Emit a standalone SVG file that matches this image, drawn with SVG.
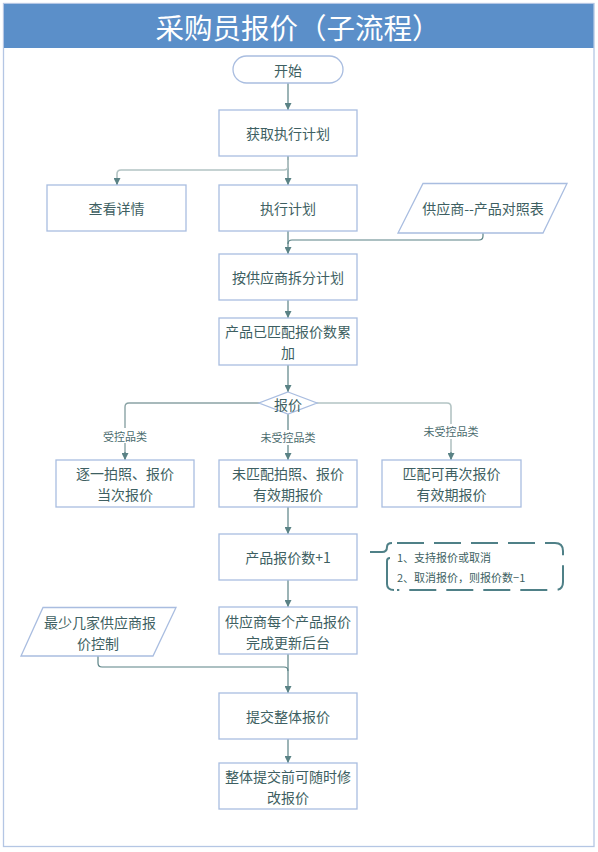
<svg xmlns="http://www.w3.org/2000/svg" width="598" height="852" viewBox="0 0 598 852">
<style>
.box{fill:#fff;stroke:#a9bde0;stroke-width:1.3}
.t{font-family:"Noto Sans CJK SC","Noto Sans",sans-serif;font-size:14px;fill:#3e5f62;text-anchor:middle;dominant-baseline:central}
.lbl{font-family:"Noto Sans CJK SC","Noto Sans",sans-serif;font-size:11px;fill:#4a6b6e;text-anchor:middle;dominant-baseline:central}
.ann{font-family:"Noto Sans CJK SC","Noto Sans",sans-serif;font-size:11px;fill:#3e5f62;dominant-baseline:central}
.c{fill:none;stroke:#5a8285;stroke-width:1.2}
.cl{fill:none;stroke:#b3c4c4;stroke-width:1.6}
.cm{fill:none;stroke:#8aa3a5;stroke-width:1.4}
</style>
<defs>
<marker id="ar" viewBox="0 0 10 10" refX="10" refY="5" markerWidth="7" markerHeight="7" markerUnits="userSpaceOnUse" orient="auto">
<path d="M0,0 L10,5 L0,10 z" fill="#5a8285"/>
</marker>
</defs>
<rect x="0" y="0" width="598" height="852" fill="#fff"/>
<rect x="3.5" y="3.5" width="590.5" height="843" fill="#fff" stroke="#b4c6e4" stroke-width="1.3"/>
<g id="title">
<rect x="4" y="4" width="589.5" height="44" fill="#5b8fc9"/>
<text x="298" y="26" font-family="'Noto Sans CJK SC','Noto Sans',sans-serif" font-size="28.5" fill="#fff" text-anchor="middle" dominant-baseline="central">采购员报价（子流程）</text>
</g>
<g id="connectors">
<path class="c" d="M288,83 V110" marker-end="url(#ar)"/>
<path class="c" d="M288,156 V185" marker-end="url(#ar)"/>
<path class="cl" d="M288,160 V166 Q288,170 284,170 H121 Q117,170 117,174 V184"/>
<path class="c" d="M117,178 V185" marker-end="url(#ar)"/>
<path class="c" d="M288,231 V254" marker-end="url(#ar)"/>
<path class="c" d="M483,233 V236 Q483,240 479,240 H292 Q288,240 288,244"/>
<path class="c" d="M288,300 V318" marker-end="url(#ar)"/>
<path class="c" d="M288,365 V392" marker-end="url(#ar)"/>
<path class="cm" d="M260,403 H129 Q125,403 125,407 V459"/>
<path class="c" d="M125,452 V460" marker-end="url(#ar)"/>
<path class="c" d="M288,414 V460" marker-end="url(#ar)"/>
<path class="cl" d="M316,403 H447 Q451,403 451,407 V459"/>
<path class="c" d="M451,452 V460" marker-end="url(#ar)"/>
<path class="c" d="M288,507 V534" marker-end="url(#ar)"/>
<path class="c" d="M288,580 V607" marker-end="url(#ar)"/>
<path class="c" d="M288,654 V693" marker-end="url(#ar)"/>
<path class="c" d="M98,656 V663 Q98,667 102,667 H284 Q288,667 288,671"/>
<path class="c" d="M288,739 V763" marker-end="url(#ar)"/>
<rect x="101" y="428" width="48" height="15" fill="#fff"/>
<text class="lbl" x="125" y="435.5">受控品类</text>
<rect x="259" y="430" width="58" height="15" fill="#fff"/>
<text class="lbl" x="288" y="437">未受控品类</text>
<rect x="422" y="424" width="58" height="15" fill="#fff"/>
<text class="lbl" x="451" y="431">未受控品类</text>
</g>
<g id="start">
<rect x="233" y="56" width="110" height="27" rx="13.5" class="box"/>
<text class="t" x="288" y="69.5">开始</text>
</g>
<g id="n-get">
<rect x="219" y="110" width="138" height="46" class="box"/>
<text class="t" x="288" y="133">获取执行计划</text>
</g>
<g id="n-view">
<rect x="47" y="185" width="139" height="46" class="box"/>
<text class="t" x="116.5" y="208">查看详情</text>
</g>
<g id="n-exec">
<rect x="219" y="185" width="138" height="46" class="box"/>
<text class="t" x="288" y="208">执行计划</text>
</g>
<g id="n-table">
<polygon points="423,183.5 567,183.5 543,233 398,233" class="box"/>
<text class="t" x="483" y="208">供应商--产品对照表</text>
</g>
<g id="n-split">
<rect x="219" y="254" width="138" height="46" class="box"/>
<text class="t" x="288" y="277">按供应商拆分计划</text>
</g>
<g id="n-accum">
<rect x="219" y="318" width="138" height="47" class="box"/>
<text class="t" x="288" y="331">产品已匹配报价数累</text>
<text class="t" x="288" y="352">加</text>
</g>
<g id="n-decision">
<polygon points="288,392 317,403 288,414 259,403" class="box"/>
<text class="t" x="288" y="403.5">报价</text>
</g>
<g id="n-each">
<rect x="56" y="460" width="138" height="47" class="box"/>
<text class="t" x="125" y="473">逐一拍照、报价</text>
<text class="t" x="125" y="494">当次报价</text>
</g>
<g id="n-unmatched">
<rect x="219" y="460" width="138" height="47" class="box"/>
<text class="t" x="288" y="473">未匹配拍照、报价</text>
<text class="t" x="288" y="494">有效期报价</text>
</g>
<g id="n-matched">
<rect x="382" y="460" width="139" height="47" class="box"/>
<text class="t" x="451.5" y="473">匹配可再次报价</text>
<text class="t" x="451.5" y="494">有效期报价</text>
</g>
<g id="n-count">
<rect x="219" y="534" width="138" height="46" class="box"/>
<text class="t" x="288" y="557">产品报价数+1</text>
</g>
<g id="annotation">
<path d="M370,552 H382 Q387,552 387,547 Q387,543 392,543" fill="none" stroke="#4f8087" stroke-width="2"/>
<path d="M390,558 Q387,558 387,561 V584 Q387,590 394,590" fill="none" stroke="#4f8087" stroke-width="2"/>
<path d="M397,543 H555 Q563,543 563,551 V582 Q563,590 555,590 H397" fill="none" stroke="#4f8087" stroke-width="2" stroke-dasharray="27 10"/>
<text class="ann" x="397" y="557">1、支持报价或取消</text>
<text class="ann" x="397" y="577">2、取消报价，则报价数−1</text>
</g>
<g id="n-update">
<rect x="219" y="607" width="138" height="47" class="box"/>
<text class="t" x="288" y="621">供应商每个产品报价</text>
<text class="t" x="288" y="642">完成更新后台</text>
</g>
<g id="n-min">
<polygon points="43,607.5 176,607.5 153,656 21,656" class="box"/>
<text class="t" x="100" y="622">最少几家供应商报</text>
<text class="t" x="98" y="643">价控制</text>
</g>
<g id="n-submit">
<rect x="219" y="693" width="138" height="46" class="box"/>
<text class="t" x="288" y="716">提交整体报价</text>
</g>
<g id="n-modify">
<rect x="219" y="763" width="138" height="46" class="box"/>
<text class="t" x="288" y="776">整体提交前可随时修</text>
<text class="t" x="288" y="797">改报价</text>
</g>
</svg>
